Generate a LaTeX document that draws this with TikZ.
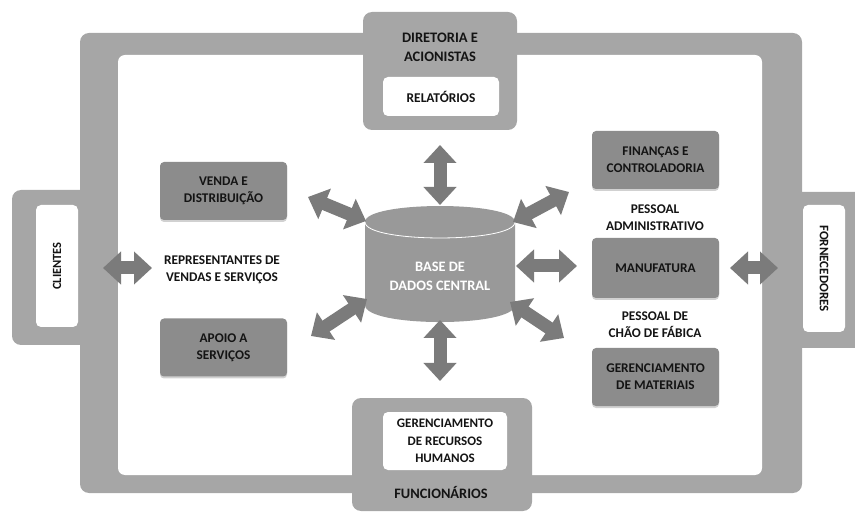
\documentclass[tikz,border=0pt]{standalone}
\usepackage{fontspec}
\setmainfont{Carlito}[BoldFont={Carlito Bold}]
\usetikzlibrary{arrows.meta,shadows}
\definecolor{framegray}{HTML}{A6A6A6}
\definecolor{boxgray}{HTML}{8C8C8C}
\definecolor{arrowgray}{HTML}{7B7B7B}
\definecolor{dbgray}{HTML}{999999}
\definecolor{txt}{HTML}{141414}
\tikzset{
  lbl/.style={font=\bfseries\fontsize{13.3}{17}\selectfont, text=txt, align=center, inner sep=0pt},
  box/.style={lbl, fill=boxgray, rounded corners=4pt,
    drop shadow={shadow xshift=0pt, shadow yshift=-2pt, fill=black, opacity=0.18},
    minimum width=127pt, minimum height=58pt},
  wbox/.style={lbl, fill=white, rounded corners=5pt},
  gbox/.style={fill=framegray, rounded corners=9pt, inner sep=0pt},
  bigarrow/.style={draw=arrowgray, line width=13pt,
    {Triangle[width=32pt,length=18pt]}-{Triangle[width=32pt,length=18pt]}},
}
\begin{document}
\begin{tikzpicture}[x=1pt,y=-1pt]
\useasboundingbox (0,0) rectangle (855,513);
\clip (0,0) rectangle (855,513);
% frame band
\fill[framegray, rounded corners=9pt] (80,33) rectangle (802,493);
\fill[white, rounded corners=7pt] (118,55) rectangle (762,475);
% side boxes
\node[gbox, minimum width=88pt, minimum height=155pt] (cligray) at (56,267.5) {};
\node[wbox, minimum width=42pt, minimum height=122pt] (cli) at (57,266) {};
\node[lbl, rotate=90, font=\bfseries\fontsize{12.5}{14}\selectfont] (clit) at (57,266) {CLIENTES};
\node[gbox, minimum width=80pt, minimum height=156pt] (forgray) at (830,270) {};
\node[wbox, minimum width=42pt, minimum height=127pt] (for) at (824,268.5) {};
\node[lbl, rotate=-90, font=\bfseries\fontsize{13}{14}\selectfont] (fort) at (824,268.5) {FORNECEDORES};
% top box
\node[gbox, minimum width=154pt, minimum height=118pt] (dir) at (440,71) {};
\node[lbl, font=\bfseries\fontsize{14.5}{19}\selectfont] (dirt) at (440,47.5) {DIRETORIA E\\ACIONISTAS};
\node[wbox, minimum width=116pt, minimum height=39pt, font=\bfseries\fontsize{13.4}{15}\selectfont] (rel) at (441,96.5) {RELATÓRIOS};
% bottom box
\node[gbox, minimum width=180pt, minimum height=113pt] (fun) at (442,454.5) {};
\node[wbox, minimum width=124pt, minimum height=58pt, font=\bfseries\fontsize{13}{17.5}\selectfont] (rh) at (445,441) {GERENCIAMENTO\\DE RECURSOS\\HUMANOS};
\node[lbl, font=\bfseries\fontsize{14.4}{16}\selectfont] (funt) at (441,493) {FUNCIONÁRIOS};
% inner boxes
\node[box] (venda) at (223.5,191) {VENDA E\\DISTRIBUIÇÃO};
\node[box] (apoio) at (223.5,347.5) {APOIO A\\SERVIÇOS};
\node[box] (fin) at (655.5,160) {FINANÇAS E\\CONTROLADORIA};
\node[box, minimum height=60pt] (man) at (655.5,268) {MANUFATURA};
\node[box] (mat) at (655.5,377) {GERENCIAMENTO\\DE MATERIAIS};
% free labels
\node[lbl] (rep) at (222,270) {REPRESENTANTES DE\\VENDAS E SERVIÇOS};
\node[lbl] (adm) at (655,218) {PESSOAL\\ADMINISTRATIVO};
\node[lbl] (fab) at (655,325) {PESSOAL DE\\CHÃO DE FÁBICA};
% database cylinder
\fill[dbgray] (365,222) .. controls (365,200.7) and (515,200.7) .. (515,222)
  -- (515,305) .. controls (515,327.7) and (365,327.7) .. (365,305) -- cycle;
\draw[white, line width=0.8pt] (365,222) .. controls (365,243.3) and (515,243.3) .. (515,222);
\node[lbl, text=white, font=\bfseries\fontsize{14.4}{19}\selectfont] (db) at (440,276) {BASE DE\\DADOS CENTRAL};
% arrow end points
\coordinate (t1) at (440,145); \coordinate (t2) at (440,205);
\coordinate (b1) at (440,320); \coordinate (b2) at (440,381);
\coordinate (r1) at (516,266); \coordinate (r2) at (577,266);
\coordinate (nw1) at (308,197); \coordinate (nw2) at (366,221);
\coordinate (ne1) at (513,222); \coordinate (ne2) at (569,192);
\coordinate (sw1) at (311,336); \coordinate (sw2) at (367,299);
\coordinate (se1) at (510,302); \coordinate (se2) at (564,338);
\coordinate (c1) at (103,268); \coordinate (c2) at (152,268);
\coordinate (f1) at (730,268); \coordinate (f2) at (778,268);
\draw[bigarrow] (t1) -- (t2);
\draw[bigarrow] (b1) -- (b2);
\draw[bigarrow] (r1) -- (r2);
\draw[bigarrow] (nw1) -- (nw2);
\draw[bigarrow] (ne1) -- (ne2);
\draw[bigarrow] (sw1) -- (sw2);
\draw[bigarrow] (se1) -- (se2);
\draw[bigarrow] (c1) -- (c2);
\draw[bigarrow] (f1) -- (f2);
\end{tikzpicture}
\end{document}
